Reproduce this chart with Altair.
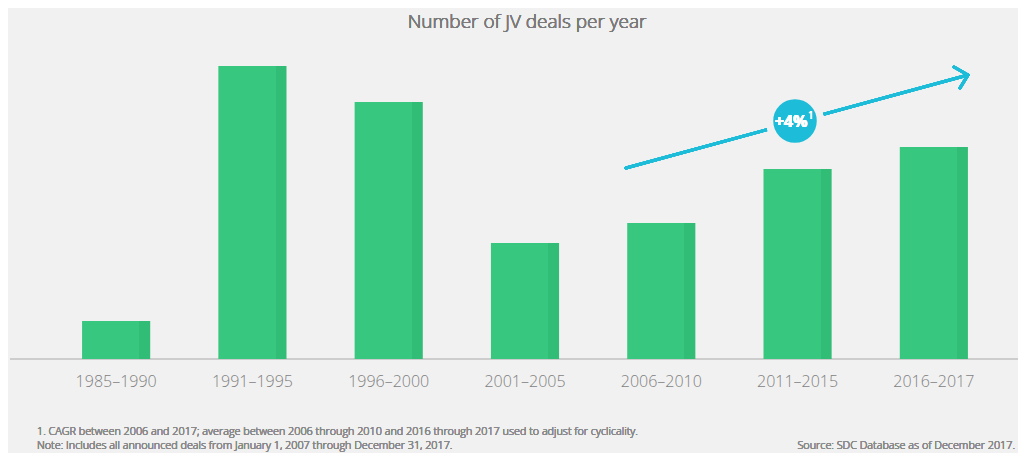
import altair as alt
import pandas as pd

periods = ["1985–1990", "1991–1995", "1996–2000", "2001–2005", "2006–2010", "2011–2015", "2016–2017"]
deals = [38, 293, 257, 116, 136, 190, 212]

title_text = "Number of JV deals per year"
cagr_label = "+4%"
cagr_note = "1"
footnote1 = "1. CAGR between 2006 and 2017; average between 2006 through 2010 and 2016 through 2017 used to adjust for cyclicality."
footnote2 = "Note: Includes all announced deals from January 1, 2007 through December 31, 2017."
source_text = "Source: SDC Database as of December 2017."

df = pd.DataFrame({"period": periods, "deals": deals})

BG = "#f1f1f1"
GREEN = "#37c77e"
GREEN_DARK = "#31bd75"
CYAN = "#1dbcd8"
FONT = "Open Sans"

green_grad = {
    "gradient": "linear",
    "x1": 0, "x2": 1, "y1": 0, "y2": 0,
    "stops": [
        {"offset": 0, "color": GREEN},
        {"offset": 0.84, "color": GREEN},
        {"offset": 0.84, "color": GREEN_DARK},
        {"offset": 1, "color": GREEN_DARK},
    ],
}

x_enc = alt.X(
    "period:N",
    sort=periods,
    scale=alt.Scale(paddingInner=0.5, paddingOuter=0.25),
    axis=alt.Axis(
        title=None, domain=False, ticks=False, labelAngle=0,
        labelFontSize=16, labelColor="#7f7f7f", labelFont=FONT,
        labelFontWeight=300, labelPadding=14,
    ),
)
y_enc = alt.Y("deals:Q", scale=alt.Scale(domain=[0, 300]), axis=None)

bars = alt.Chart(df).mark_bar(color=green_grad).encode(x=x_enc, y=y_enc)

baseline = alt.Chart(df).mark_rule(color="#cccccc", strokeWidth=1.5).encode(
    x=alt.value(-38), x2=alt.value(975), y=alt.value(300)
)

# trend arrow
arrow = alt.Chart(df).mark_rule(color=CYAN, strokeWidth=3, strokeCap="round").encode(
    x=alt.value(578), y=alt.value(109), x2=alt.value(920), y2=alt.value(16)
)
head1 = alt.Chart(df).mark_rule(color=CYAN, strokeWidth=3, strokeCap="round").encode(
    x=alt.value(920), y=alt.value(16), x2=alt.value(906), y2=alt.value(8)
)
head2 = alt.Chart(df).mark_rule(color=CYAN, strokeWidth=3, strokeCap="round").encode(
    x=alt.value(920), y=alt.value(16), x2=alt.value(912), y2=alt.value(29)
)
circle = alt.Chart(df).mark_point(
    filled=True, shape="circle", fill=CYAN, stroke=BG, strokeWidth=7, opacity=1, size=2552
).encode(x=alt.value(747), y=alt.value(62))
circle_text = alt.Chart(df).mark_text(
    text=cagr_label, color="white", fontSize=16, fontWeight="bold", font=FONT,
    align="center", baseline="middle"
).encode(x=alt.value(743), y=alt.value(63))
circle_sup = alt.Chart(df).mark_text(
    text=cagr_note, color="white", fontSize=10, font=FONT,
    align="left", baseline="middle"
).encode(x=alt.value(760), y=alt.value(57))

title = alt.Chart(df).mark_text(
    text=title_text, color="#7a7a7a", fontSize=19, fontWeight=300, font=FONT,
    align="center", baseline="middle"
).encode(x=alt.value(479), y=alt.value(-37))

fn1 = alt.Chart(df).mark_text(
    text=footnote1, color="#8a8a8a", fontSize=10.8, fontWeight=300, font=FONT,
    align="left", baseline="middle"
).encode(x=alt.value(-11), y=alt.value(373))
fn2 = alt.Chart(df).mark_text(
    text=footnote2, color="#8a8a8a", fontSize=10.8, fontWeight=300, font=FONT,
    align="left", baseline="middle"
).encode(x=alt.value(-11), y=alt.value(387))
src = alt.Chart(df).mark_text(
    text=source_text, color="#8a8a8a", fontSize=10.8, fontWeight=300, font=FONT,
    align="right", baseline="middle"
).encode(x=alt.value(967), y=alt.value(387))

chart = alt.layer(
    baseline, bars, arrow, head1, head2, circle, circle_text, circle_sup, title, fn1, fn2, src
).properties(
    width=954, height=300,
    autosize=alt.AutoSizeParams(type="none"),
    padding={"left": 40, "top": 51, "right": 16, "bottom": 94},
    background=BG,
).configure_view(stroke=None)

chart.save("out.html", embed_options={"renderer": "svg", "actions": False})
